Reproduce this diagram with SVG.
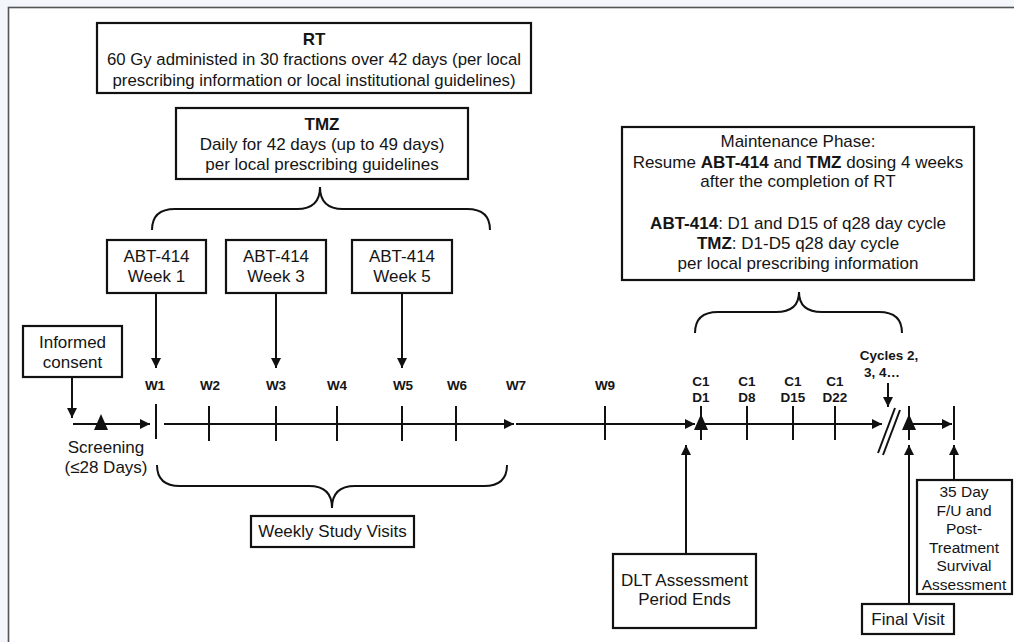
<svg xmlns="http://www.w3.org/2000/svg" width="1014" height="642" viewBox="0 0 1014 642">
<defs>
<marker id="ah" markerUnits="userSpaceOnUse" markerWidth="11" markerHeight="10" refX="10" refY="5" orient="auto">
<path d="M0,0 L10,5 L0,10 z" fill="#111"/>
</marker>
<style>
text{font-family:"Liberation Sans",Arial,sans-serif;fill:#151515}
.t{font-size:17px;text-anchor:middle}
.s{font-size:15.5px;text-anchor:middle}
.lb{font-size:13.5px;font-weight:bold;text-anchor:middle}
.b{font-weight:bold}
.box{fill:#fff;stroke:#111;stroke-width:2.2}
.ln{stroke:#111;stroke-width:2;fill:none}
.ar{stroke:#111;stroke-width:2;fill:none;marker-end:url(#ah)}
.tk{stroke:#111;stroke-width:2}
.tri{fill:#111}
.br{stroke:#111;stroke-width:2;fill:none}
</style>
</defs>
<rect x="0" y="0" width="1014" height="642" fill="#f3f6fa"/>
<rect x="8.5" y="7.5" width="1020" height="650" fill="#fff" stroke="#555" stroke-width="1.6"/>

<g id="rt">
<rect class="box" x="97" y="23" width="434" height="70"/>
<text class="t b" x="314" y="45">RT</text>
<text class="t" x="314" y="65" style="font-size:16.8px">60 Gy administed in 30 fractions over 42 days (per local</text>
<text class="t" x="314" y="86" style="font-size:16.8px">prescribing information or local institutional guidelines)</text>
</g>
<g id="tmz">
<rect class="box" x="176" y="108" width="292" height="71"/>
<text class="t b" x="322" y="130">TMZ</text>
<text class="t" x="322" y="150">Daily for 42 days (up to 49 days)</text>
<text class="t" x="322" y="170">per local prescribing guidelines</text>
</g>
<g id="abt1">
<rect class="box" x="107" y="240" width="99" height="53"/>
<text class="t" x="156.5" y="262">ABT-414</text>
<text class="t" x="156.5" y="282">Week 1</text>
</g>
<g id="abt3">
<rect class="box" x="226" y="240" width="100" height="53"/>
<text class="t" x="276" y="262">ABT-414</text>
<text class="t" x="276" y="282">Week 3</text>
</g>
<g id="abt5">
<rect class="box" x="352" y="240" width="100" height="53"/>
<text class="t" x="402" y="262">ABT-414</text>
<text class="t" x="402" y="282">Week 5</text>
</g>
<g id="consent">
<rect class="box" x="23" y="326" width="99" height="51"/>
<text class="t" x="72.5" y="348">Informed</text>
<text class="t" x="72.5" y="368">consent</text>
</g>
<g id="screening">
<text class="t" x="106" y="453">Screening</text>
<text class="t" x="106" y="473">(≤28 Days)</text>
</g>
<g id="weekly">
<rect class="box" x="251" y="516" width="163" height="31"/>
<text class="t" x="332.5" y="537">Weekly Study Visits</text>
</g>
<g id="maintenance">
<rect class="box" x="622" y="127" width="352" height="153"/>
<text class="t" x="798" y="147">Maintenance Phase:</text>
<text class="t" x="798" y="168">Resume <tspan class="b">ABT-414</tspan> and <tspan class="b">TMZ</tspan> dosing 4 weeks</text>
<text class="t" x="798" y="187">after the completion of RT</text>
<text class="t" x="798" y="229"><tspan class="b">ABT-414</tspan>: D1 and D15 of q28 day cycle</text>
<text class="t" x="798" y="249"><tspan class="b">TMZ</tspan>: D1-D5 q28 day cycle</text>
<text class="t" x="798" y="269">per local prescribing information</text>
</g>
<g id="dlt">
<rect class="box" x="613" y="554" width="143" height="74"/>
<text class="t" x="684.5" y="586">DLT Assessment</text>
<text class="t" x="684.5" y="605">Period Ends</text>
</g>
<g id="final">
<rect class="box" x="862" y="604" width="92" height="30"/>
<text class="t" x="908" y="625">Final Visit</text>
</g>
<g id="followup">
<rect class="box" x="917" y="480" width="95" height="114"/>
<text class="s" x="964" y="497">35 Day</text>
<text class="s" x="964" y="515.5">F/U and</text>
<text class="s" x="964" y="534">Post-</text>
<text class="s" x="964" y="552.5">Treatment</text>
<text class="s" x="964" y="571">Survival</text>
<text class="s" x="964" y="589.5">Assessment</text>
</g>
<g id="labels">
<text class="lb" x="155" y="390">W1</text>
<text class="lb" x="210" y="390">W2</text>
<text class="lb" x="276" y="390">W3</text>
<text class="lb" x="337" y="390">W4</text>
<text class="lb" x="403" y="390">W5</text>
<text class="lb" x="457" y="390">W6</text>
<text class="lb" x="516" y="390">W7</text>
<text class="lb" x="605" y="390">W9</text>
<text class="lb" x="701" y="386">C1</text>
<text class="lb" x="701" y="402">D1</text>
<text class="lb" x="747" y="386">C1</text>
<text class="lb" x="747" y="402">D8</text>
<text class="lb" x="793" y="386">C1</text>
<text class="lb" x="793" y="402">D15</text>
<text class="lb" x="835" y="386">C1</text>
<text class="lb" x="835" y="402">D22</text>
<text class="lb" x="889" y="360">Cycles 2,</text>
<text class="lb" x="882" y="377">3, 4…</text>
</g>
<g id="connectors">
<path class="br" d="M152,230 Q152,209 175,209 L297,209 Q320,209 320,187 Q320,209 343,209 L467,209 Q490,209 490,230"/>
<path class="br" d="M157,465 Q157,486 180,486 L309,486 Q332,486 332,508 Q332,486 355,486 L484,486 Q507,486 507,465"/>
<path class="br" d="M695,333 Q695,312 718,312 L776,312 Q799,312 799,292 Q799,312 822,312 L879,312 Q902,312 902,333"/>
<line class="ar" x1="156" y1="293" x2="156" y2="368"/>
<line class="ar" x1="276" y1="293" x2="276" y2="368"/>
<line class="ar" x1="402" y1="293" x2="402" y2="368"/>
<line class="ar" x1="72" y1="377" x2="72" y2="418"/>
<line class="ar" x1="888" y1="383" x2="888" y2="407"/>
<line class="ar" x1="73" y1="424" x2="150" y2="424"/>
<line class="ar" x1="164" y1="424" x2="514" y2="424"/>
<line class="ar" x1="516" y1="424" x2="695" y2="424"/>
<line class="ar" x1="701" y1="424" x2="882" y2="424"/>
<line class="ar" x1="909" y1="424" x2="952" y2="424"/>
<line class="ar" x1="686" y1="554" x2="686" y2="445"/>
<line class="ar" x1="909" y1="604" x2="909" y2="445"/>
<line class="ar" x1="954" y1="480" x2="954" y2="445"/>
<line class="tk" x1="156" y1="404" x2="156" y2="439"/>
<line class="tk" x1="209" y1="406" x2="209" y2="441"/>
<line class="tk" x1="276" y1="406" x2="276" y2="441"/>
<line class="tk" x1="337" y1="406" x2="337" y2="441"/>
<line class="tk" x1="402" y1="406" x2="402" y2="441"/>
<line class="tk" x1="456" y1="406" x2="456" y2="441"/>
<line class="tk" x1="605" y1="406" x2="605" y2="440"/>
<line class="tk" x1="701" y1="406" x2="701" y2="440"/>
<line class="tk" x1="747" y1="406" x2="747" y2="440"/>
<line class="tk" x1="793" y1="406" x2="793" y2="440"/>
<line class="tk" x1="835" y1="406" x2="835" y2="440"/>
<line class="tk" x1="909" y1="406" x2="909" y2="440"/>
<line class="tk" x1="954" y1="406" x2="954" y2="440"/>
<line class="tk" x1="878" y1="453" x2="895" y2="408" stroke-width="1.6"/>
<line class="tk" x1="883" y1="455" x2="900" y2="410" stroke-width="1.6"/>
<path class="tri" d="M101,414 L108,430 L94,430 z"/>
<path class="tri" d="M701,414 L708,430 L694,430 z"/>
<path class="tri" d="M909,414 L916,430 L902,430 z"/>
</g>
</svg>
